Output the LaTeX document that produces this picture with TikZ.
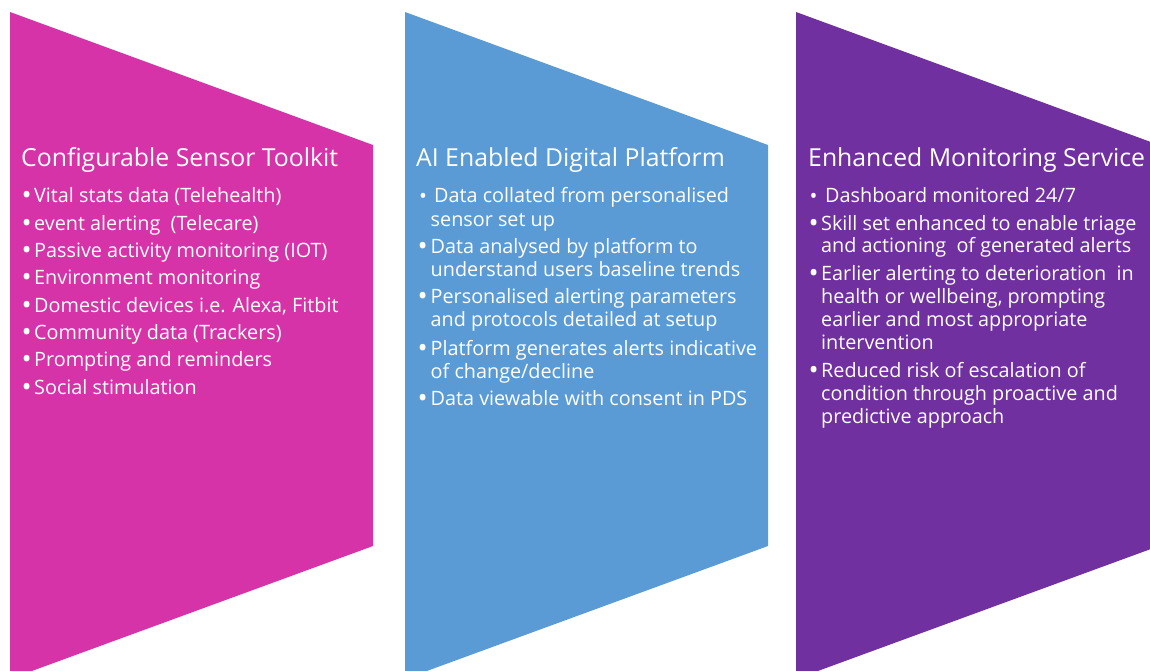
\documentclass[tikz,border=0pt]{standalone}
\usepackage{fontspec}
\setmainfont{Open Sans}
\definecolor{cpink}{RGB}{214,51,168}
\definecolor{cblue}{RGB}{91,155,213}
\definecolor{cpurple}{RGB}{112,48,160}
\tikzset{
  ttl/.style={anchor=base west, inner sep=0pt, text=white, font=\fontsize{24.8}{28}\selectfont},
  itm/.style={anchor=base west, inner sep=0pt, text=white, font=\fontsize{19.8}{22}\selectfont},
  bul/.style={anchor=base west, inner sep=0pt, text=white, font=\fontsize{27}{28}\selectfont},
  sbul/.style={anchor=base west, inner sep=0pt, text=white, font=\fontsize{21}{22}\selectfont},
}
\newcommand{\mybul}{\raisebox{-2.2pt}{\textbullet}}
\newcommand{\mysbul}{\raisebox{-0.8pt}{\textbullet}}
\begin{document}
\begin{tikzpicture}[x=1pt,y=-1pt]
\useasboundingbox (0,0) rectangle (1150,670);
\clip (0,0) rectangle (1150,670);
% chevron panels
\fill[cpink]   (10,12)  -- (373,145) -- (373,546) -- (10,679) -- cycle;
\fill[cblue]   (405,12) -- (768,145) -- (768,546) -- (405,679) -- cycle;
\fill[cpurple] (796,12) -- (1159,145) -- (1159,546) -- (796,679) -- cycle;
% titles
\node[ttl] (t1) at (21,166)  {Configurable Sensor Toolkit};
\node[ttl] (t2) at (416,166) {AI Enabled Digital Platform};
\node[ttl] (t3) at (808,166) {Enhanced Monitoring Service};
% column 1
\foreach \y/\t [count=\i] in {
  202.7/{Vital stats data (Telehealth)},
  230/{event alerting\ \ (Telecare)},
  257.3/{Passive activity monitoring (IOT)},
  284.6/{Environment monitoring},
  312/{Domestic devices i.e. Alexa, Fitbit},
  339.3/{Community data (Trackers)},
  366.6/{Prompting and reminders},
  394/{Social stimulation}}{
  \node[bul] (ba\i) at (21.5,\y) {\mybul};
  \node[itm] (la\i) at (34,\y) {\t};
}
% column 2 bullets
\node[sbul] (bb1) at (419,202.7) {\mysbul};
\foreach \y [count=\i from 2] in {253.3, 303.3, 355, 405}
  \node[bul] (bb\i) at (417.5,\y) {\mybul};
% column 2 lines
\foreach \y/\x/\t [count=\i] in {
  202.7/434/{Data collated from personalised},
  226/430.5/{sensor set up},
  253.3/430.5/{Data analysed by platform to},
  276.6/430.5/{understand users baseline trends},
  303.3/430.5/{Personalised alerting parameters},
  326.6/430.5/{and protocols detailed at setup},
  355/430.5/{Platform generates alerts indicative},
  378.2/430.5/{of change/decline},
  405/430.5/{Data viewable with consent in PDS}}
  \node[itm] (lb\i) at (\x,\y) {\t};
% column 3 bullets
\node[sbul] (bc1) at (809.5,202.7) {\mysbul};
\foreach \y [count=\i from 2] in {230, 280.7, 377.3}
  \node[bul] (bc\i) at (808.5,\y) {\mybul};
% column 3 lines
\foreach \y/\x/\t [count=\i] in {
  202.7/825/{Dashboard monitored 24/7},
  230/821/{Skill set enhanced to enable triage},
  252.9/821/{and actioning\ \ of generated alerts},
  280.7/821/{Earlier alerting to deterioration\ \ in},
  303.7/821/{health or wellbeing, prompting},
  326.7/821/{earlier and most appropriate},
  349.7/821/{intervention},
  377.3/821/{Reduced risk of escalation of},
  400.5/821/{condition through proactive and},
  423.5/821/{predictive approach}}
  \node[itm] (lc\i) at (\x,\y) {\t};
\end{tikzpicture}
\end{document}
